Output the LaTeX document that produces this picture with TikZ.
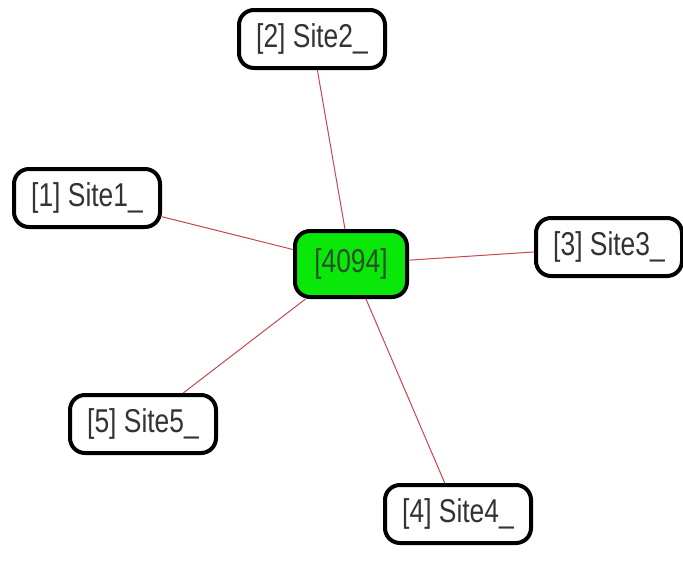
\documentclass[tikz,border=0pt]{standalone}
\usepackage{fontspec}
\newfontfamily\sitefont[FakeStretch=0.8]{Liberation Sans}
\definecolor{hubgreen}{RGB}{10,232,10}
\definecolor{hubtext}{RGB}{40,80,40}
\definecolor{linkred}{RGB}{200,70,80}

\tikzset{
			site/.style={draw=black, fill=white, line width=4pt, rounded corners=15pt, minimum width=146pt, minimum height=58pt, inner sep=0pt, font=\sitefont\fontsize{33}{33}\selectfont, text=black!80},
			hub/.style={site, fill=hubgreen, minimum width=112pt, minimum height=66pt, text=hubtext},
			link/.style={linkred, line width=1pt}
		}

\begin{document}
\begin{tikzpicture}[x=1pt, y=1pt]
			\useasboundingbox (0,0) rectangle (683,-565);

			% Define nodes at their screen positions
			\node[hub]  (hub) at (351,-264) {[4094]};
			\node[site] (s1) at (87,-198)  {[1] Site1\_};
			\node[site] (s2) at (312,-39)  {[2] Site2\_};
			\node[site] (s3) at (609,-247) {[3] Site3\_};
			\node[site] (s4) at (458,-514) {[4] Site4\_};
			\node[site] (s5) at (143,-424) {[5] Site5\_};

			% Draw links from the hub to every site
			\draw[link] (hub) -- (s1);
			\draw[link] (hub) -- (s2);
			\draw[link] (hub) -- (s3);
			\draw[link] (hub) -- (s4);
			\draw[link] (hub) -- (s5);

		\end{tikzpicture}
\end{document}
